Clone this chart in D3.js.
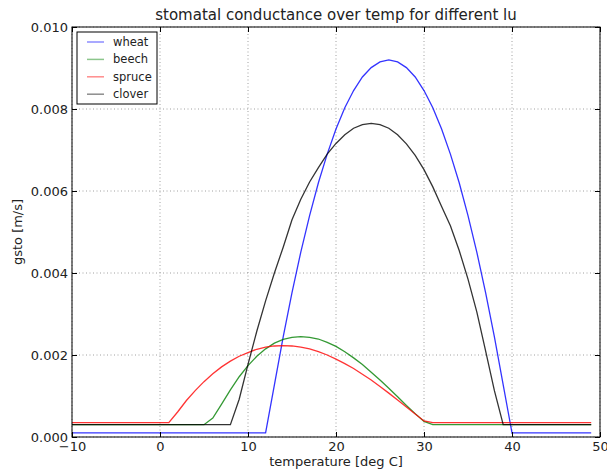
<!DOCTYPE html>
<html>
<head>
<meta charset="utf-8">
<script src="https://cdn.jsdelivr.net/npm/d3@7"></script>
<style>
  body { margin: 0; background: #fff; }
  text { font-family: "DejaVu Sans", sans-serif; fill: #222; }
</style>
</head>
<body>
<div id="chart"></div>
<script>
// temperatures [deg C]
const temps = [-10, -9, -8, -7, -6, -5, -4, -3, -2, -1, 0, 1, 2, 3, 4, 5, 6, 7, 8, 9,
    10, 11, 12, 13, 14, 15, 16, 17, 18, 19, 20, 21, 22, 23, 24, 25, 26, 27, 28, 29,
    30, 31, 32, 33, 34, 35, 36, 37, 38, 39, 40, 41, 42, 43, 44, 45, 46, 47, 48, 49];

// gsto [m/s]
const wheat = [0.0001, 0.0001, 0.0001, 0.0001, 0.0001, 0.0001, 0.0001, 0.0001, 0.0001, 0.0001,
    0.0001, 0.0001, 0.0001, 0.0001, 0.0001, 0.0001, 0.0001, 0.0001, 0.0001, 0.0001,
    0.0001, 0.0001, 0.0001, 0.00127, 0.00244, 0.00352, 0.00451, 0.0054, 0.0062, 0.0069,
    0.00751, 0.00803, 0.00845, 0.00878, 0.00901, 0.00915, 0.0092, 0.00915, 0.00901, 0.00878,
    0.00845, 0.00803, 0.00751, 0.0069, 0.0062, 0.0054, 0.00451, 0.00352, 0.00244, 0.00127,
    0.0001, 0.0001, 0.0001, 0.0001, 0.0001, 0.0001, 0.0001, 0.0001, 0.0001, 0.0001];

const beech = [0.0003, 0.0003, 0.0003, 0.0003, 0.0003, 0.0003, 0.0003, 0.0003, 0.0003, 0.0003,
    0.0003, 0.0003, 0.0003, 0.0003, 0.0003, 0.0003, 0.00046, 0.0008, 0.00115, 0.00147,
    0.00174, 0.00197, 0.00215, 0.00229, 0.00238, 0.00243, 0.00245, 0.00243, 0.00239, 0.00231,
    0.00221, 0.00208, 0.00193, 0.00177, 0.00158, 0.00139, 0.00119, 0.00098, 0.00077, 0.00057,
    0.00038, 0.0003, 0.0003, 0.0003, 0.0003, 0.0003, 0.0003, 0.0003, 0.0003, 0.0003,
    0.0003, 0.0003, 0.0003, 0.0003, 0.0003, 0.0003, 0.0003, 0.0003, 0.0003, 0.0003];

const spruce = [0.00035, 0.00035, 0.00035, 0.00035, 0.00035, 0.00035, 0.00035, 0.00035, 0.00035, 0.00035,
    0.00035, 0.00035, 0.00061, 0.00089, 0.00113, 0.00135, 0.00154, 0.00171, 0.00185, 0.00197,
    0.00206, 0.00214, 0.00219, 0.00222, 0.00223, 0.00222, 0.00219, 0.00215, 0.00208, 0.002,
    0.0019, 0.00179, 0.00167, 0.00153, 0.00139, 0.00123, 0.00107, 0.0009, 0.00073, 0.00056,
    0.00039, 0.00035, 0.00035, 0.00035, 0.00035, 0.00035, 0.00035, 0.00035, 0.00035, 0.00035,
    0.00035, 0.00035, 0.00035, 0.00035, 0.00035, 0.00035, 0.00035, 0.00035, 0.00035, 0.00035];

const clover = [0.0003, 0.0003, 0.0003, 0.0003, 0.0003, 0.0003, 0.0003, 0.0003, 0.0003, 0.0003,
    0.0003, 0.0003, 0.0003, 0.0003, 0.0003, 0.0003, 0.0003, 0.0003, 0.0003, 0.00092,
    0.00177, 0.00258, 0.00332, 0.004, 0.00463, 0.0053, 0.0058, 0.00622, 0.00657, 0.0069,
    0.00716, 0.00737, 0.00753, 0.00762, 0.00765, 0.00762, 0.00753, 0.00737, 0.00715, 0.00687,
    0.00652, 0.0061, 0.00562, 0.00515, 0.00455, 0.00385, 0.00305, 0.0021, 0.00113, 0.0003,
    0.0003, 0.0003, 0.0003, 0.0003, 0.0003, 0.0003, 0.0003, 0.0003, 0.0003, 0.0003];

const seriesNames = ['wheat', 'beech', 'spruce', 'clover'];
const seriesColors = ['#0000ff', '#008000', '#ff0000', '#000000'];
const xTicks = [-10, 0, 10, 20, 30, 40, 50];
const yTicks = [0, 0.002, 0.004, 0.006, 0.008, 0.010];

const svgWidth = 607;
const svgHeight = 471;
const margin = { top: 27, right: 7, bottom: 34, left: 72 };
const width = svgWidth - margin.left - margin.right;
const height = svgHeight - margin.top - margin.bottom;

const svg = d3.select('#chart')
    .append('svg')
    .attr('width', svgWidth)
    .attr('height', svgHeight);

const chartGroup = svg.append('g')
    .attr('transform', `translate(${margin.left}, ${margin.top})`);

const xScale = d3.scaleLinear().domain([-10, 50]).range([0, width]);
const yScale = d3.scaleLinear().domain([0, 0.010]).range([height, 0]);

// dotted grid
chartGroup.append('g')
    .selectAll('line')
    .data(xTicks)
    .enter()
    .append('line')
    .attr('x1', d => xScale(d)).attr('x2', d => xScale(d))
    .attr('y1', 0).attr('y2', height)
    .attr('stroke', '#888').attr('stroke-width', 0.8).attr('stroke-dasharray', '1,2.5');
chartGroup.append('g')
    .selectAll('line')
    .data(yTicks)
    .enter()
    .append('line')
    .attr('x1', 0).attr('x2', width)
    .attr('y1', d => yScale(d)).attr('y2', d => yScale(d))
    .attr('stroke', '#888').attr('stroke-width', 0.8).attr('stroke-dasharray', '1,2.5');

// lines
const series = [wheat, beech, spruce, clover];
const line = d3.line()
    .x((d, i) => xScale(temps[i]))
    .y(d => yScale(d));
series.forEach((vals, k) => {
    chartGroup.append('path')
        .datum(vals)
        .attr('fill', 'none')
        .attr('stroke', seriesColors[k])
        .attr('stroke-opacity', 0.8)
        .attr('stroke-width', 1.3)
        .attr('d', line);
});

// axes, ticks pointing inward on all four sides
const fmtX = d => (d < 0 ? '\u2212' + Math.abs(d) : d);
const fmtY = d3.format('.3f');
chartGroup.append('g')
    .attr('transform', `translate(0, ${height})`)
    .call(d3.axisBottom(xScale).tickValues(xTicks).tickFormat(fmtX).tickSizeInner(-5).tickSizeOuter(0).tickPadding(5));
chartGroup.append('g')
    .call(d3.axisTop(xScale).tickValues(xTicks).tickFormat('').tickSizeInner(-5).tickSizeOuter(0));
chartGroup.append('g')
    .call(d3.axisLeft(yScale).tickValues(yTicks).tickFormat(fmtY).tickSizeInner(-5).tickSizeOuter(0).tickPadding(4));
chartGroup.append('g')
    .attr('transform', `translate(${width}, 0)`)
    .call(d3.axisRight(yScale).tickValues(yTicks).tickFormat('').tickSizeInner(-5).tickSizeOuter(0));

chartGroup.selectAll('.domain').remove();
chartGroup.selectAll('.tick line').attr('stroke', '#000');
chartGroup.selectAll('.tick text')
    .style('font-size', '13px')
    .style('font-family', '"DejaVu Sans", sans-serif')
    .attr('fill', '#222');

// plot frame
chartGroup.append('rect')
    .attr('x', 0).attr('y', 0)
    .attr('width', width).attr('height', height)
    .attr('fill', 'none').attr('stroke', '#000').attr('stroke-width', 1);

// title and axis labels
svg.append('text')
    .attr('x', margin.left + width / 2).attr('y', 20)
    .attr('text-anchor', 'middle')
    .style('font-size', '15px')
    .text('stomatal conductance over temp for different lu');
svg.append('text')
    .attr('x', margin.left + width / 2).attr('y', 466)
    .attr('text-anchor', 'middle')
    .style('font-size', '13px')
    .text('temperature [deg C]');
svg.append('text')
    .attr('transform', `translate(22, ${margin.top + height / 2}) rotate(-90)`)
    .attr('text-anchor', 'middle')
    .style('font-size', '13px')
    .text('gsto [m/s]');

// legend
const legend = chartGroup.append('g').attr('transform', 'translate(5, 5)');
legend.append('rect')
    .attr('width', 80).attr('height', 72)
    .attr('fill', '#fff').attr('stroke', '#000').attr('stroke-width', 1);
seriesNames.forEach((name, k) => {
    const yPos = 10 + k * 17.4;
    legend.append('line')
        .attr('x1', 10).attr('x2', 27)
        .attr('y1', yPos).attr('y2', yPos)
        .attr('stroke', seriesColors[k])
        .attr('stroke-opacity', 0.45)
        .attr('stroke-width', 1.5);
    legend.append('text')
        .attr('x', 36).attr('y', yPos + 4)
        .style('font-size', '11.5px')
        .text(name);
});
</script>
</body>
</html>
